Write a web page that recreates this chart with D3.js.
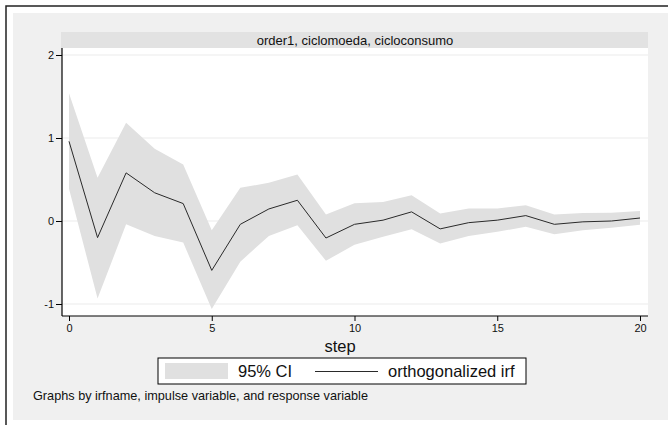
<!DOCTYPE html>
<html>
<head>
<meta charset="utf-8">
<script src="https://cdn.jsdelivr.net/npm/d3@7"></script>
<style>
  body { margin: 0; background: #fff; }
  svg { display: block; font-family: Arial, "Liberation Sans", sans-serif; }
</style>
</head>
<body>
<svg id="chart" width="668" height="425"></svg>
<script>
// irf values
const steps = d3.range(0, 21);
const irf = [0.96, -0.20, 0.58, 0.34, 0.21, -0.595, -0.04, 0.145, 0.25, -0.205, -0.04,
             0.01, 0.11, -0.095, -0.02, 0.01, 0.065, -0.04, -0.01, 0.0, 0.036];
const ciUpper = [1.54, 0.52, 1.185, 0.87, 0.68, -0.11, 0.40, 0.46, 0.56, 0.077, 0.215,
                 0.23, 0.31, 0.09, 0.15, 0.15, 0.19, 0.077, 0.096, 0.10, 0.12];
const ciLower = [0.39, -0.935, -0.04, -0.18, -0.26, -1.06, -0.49, -0.18, -0.05, -0.48, -0.285,
                 -0.19, -0.10, -0.27, -0.18, -0.13, -0.07, -0.16, -0.11, -0.08, -0.045];
const yTicks = [-1, 0, 1, 2];
const xTicks = [0, 5, 10, 15, 20];
const panelTitle = "order1, ciclomoeda, cicloconsumo";

const svg = d3.select("#chart");

// plot region
const plot = { left: 62, right: 648, top: 48, bottom: 316 };

const x = d3.scaleLinear().domain([0, 20]).range([69, 640]);
const y = d3.scaleLinear().domain([-1, 2]).range([304, 55]);

// outer frame
svg.append("rect").attr("x", 6).attr("y", 6).attr("width", 670).attr("height", 430)
    .attr("fill", "#fff").attr("stroke", "#222").attr("stroke-width", 1.5);
svg.append("rect").attr("x", 13).attr("y", 13).attr("width", 655).attr("height", 407)
    .attr("fill", "#f0f0f0");

// panel header strip
svg.append("rect").attr("x", plot.left - 1).attr("y", 32)
    .attr("width", plot.right - plot.left + 1).attr("height", 16)
    .attr("fill", "#e2e2e2");
svg.append("text").attr("x", (plot.left + plot.right) / 2).attr("y", 44.5)
    .attr("text-anchor", "middle").attr("font-size", 13).attr("fill", "#111")
    .text(panelTitle);

// white plot area
svg.append("rect").attr("x", plot.left).attr("y", plot.top)
    .attr("width", plot.right - plot.left).attr("height", plot.bottom - plot.top)
    .attr("fill", "#fff");

// gridlines
svg.append("g").selectAll("line").data(yTicks).enter().append("line")
    .attr("x1", plot.left).attr("x2", plot.right)
    .attr("y1", (d) => y(d)).attr("y2", (d) => y(d))
    .attr("stroke", "#ebebeb").attr("stroke-width", 1);

// confidence band
const band = d3.area()
    .x((d, i) => x(steps[i]))
    .y0((d, i) => y(ciLower[i]))
    .y1((d, i) => y(ciUpper[i]));
svg.append("path").datum(steps).attr("d", band).attr("fill", "#e0e0e0");

// irf line
const line = d3.line()
    .x((d, i) => x(steps[i]))
    .y((d, i) => y(irf[i]));
svg.append("path").datum(steps).attr("d", line)
    .attr("fill", "none").attr("stroke", "#2a2a2a").attr("stroke-width", 1);

// axes (plain hyphen for negatives, like the original)
const yAxis = d3.axisLeft(y).tickValues(yTicks).tickSize(6).tickPadding(2).tickFormat((d) => String(d));
const gy = svg.append("g").attr("transform", "translate(" + plot.left + ",0)").call(yAxis);
gy.select(".domain").attr("d", "M0," + plot.top + "V" + plot.bottom);

const xAxis = d3.axisBottom(x).tickValues(xTicks).tickSize(5).tickPadding(3).tickFormat((d) => String(d));
const gx = svg.append("g").attr("transform", "translate(0," + plot.bottom + ")").call(xAxis);
gx.select(".domain").attr("d", "M" + plot.left + ",0H" + plot.right);

svg.selectAll(".domain").attr("stroke", "#000").attr("stroke-width", 1.2);
svg.selectAll(".tick line").attr("stroke", "#000");
svg.selectAll(".tick text").attr("font-size", 11).attr("fill", "#111")
    .attr("font-family", "Arial, 'Liberation Sans', sans-serif");

// x axis title
svg.append("text").attr("x", 340).attr("y", 351.5).attr("text-anchor", "middle")
    .attr("font-size", 16.5).attr("fill", "#111").text("step");

// legend
const lg = svg.append("g");
lg.append("rect").attr("x", 158).attr("y", 358).attr("width", 368).attr("height", 26)
    .attr("fill", "#fff").attr("stroke", "#000").attr("stroke-width", 1);
lg.append("rect").attr("x", 165).attr("y", 363).attr("width", 63).attr("height", 16)
    .attr("fill", "#e0e0e0");
lg.append("text").attr("x", 238).attr("y", 377).attr("font-size", 16.5).attr("fill", "#111")
    .text("95% CI");
lg.append("line").attr("x1", 315).attr("x2", 378).attr("y1", 371.5).attr("y2", 371.5)
    .attr("stroke", "#2a2a2a").attr("stroke-width", 1);
lg.append("text").attr("x", 388).attr("y", 377).attr("font-size", 16.5).attr("fill", "#111")
    .text("orthogonalized irf");

// footnote
svg.append("text").attr("x", 33).attr("y", 400).attr("font-size", 12.7).attr("fill", "#111")
    .text("Graphs by irfname, impulse variable, and response variable");
</script>
</body>
</html>
